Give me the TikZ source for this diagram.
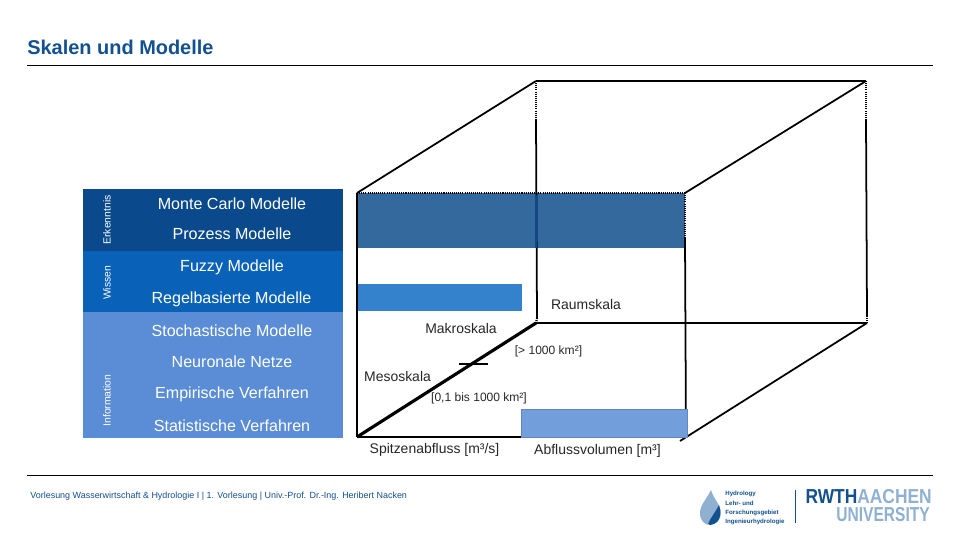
\documentclass[tikz,border=0pt]{standalone}
\usepackage{fontspec}
\setmainfont{Liberation Sans}
\usepackage{xcolor}
\usetikzlibrary{calc,positioning}
\definecolor{deepblue}{HTML}{0A4A8C}
\definecolor{midblue}{HTML}{0A62B8}
\definecolor{lightblue}{HTML}{5A8DD5}
\definecolor{barone}{HTML}{34699D}
\definecolor{bartwo}{HTML}{3582CC}
\definecolor{barthree}{HTML}{729FDC}
\definecolor{logogrey}{HTML}{8FB0D0}
\definecolor{logoblue}{HTML}{12508F}
\tikzset{
  band/.style={fill=#1,draw=none},
  model/.style={text=white,font=\fontsize{9.15}{10}\selectfont,inner sep=0pt},
  side/.style={text=white,font=\fontsize{5.9}{7}\selectfont,rotate=90,inner sep=0pt},
  scale label/.style={text=black!85,font=\fontsize{7.95}{9}\selectfont,inner sep=0pt},
  range label/.style={text=black!85,font=\fontsize{6.85}{8}\selectfont,inner sep=0pt},
  edge/.style={line width=1.3pt},
  thin edge/.style={line width=1pt},
  dot edge/.style={line width=1.2pt,dash pattern=on 0.6pt off 0.6pt},
}
\begin{document}
\begin{tikzpicture}[x=0.02cm,y=-0.02cm]
\useasboundingbox (0,0) rectangle (960,540);

%title and rules
\node[anchor=west,inner sep=0pt,text=logoblue,font=\bfseries\fontsize{11.35}{12}\selectfont] (title) at (27,47) {Skalen und Modelle};
\coordinate (r1) at (27,65);
\coordinate (r2) at (933,65);
\coordinate (r3) at (27,475);
\coordinate (r4) at (933,475);
\draw[line width=0.4pt] (r1) -- (r2);
\draw[line width=0.4pt] (r3) -- (r4);

%left panel
\fill[band=deepblue] (83,189) rectangle (342.5,251);
\fill[band=midblue] (83,251) rectangle (342.5,312);
\fill[band=lightblue] (83,312) rectangle (342.5,438);

\node[side] (erk) at (107,220) {Erkenntnis};
\node[side] (wis) at (107,283) {Wissen};
\node[side] (inf) at (107,400.5) {Information};

\node[model] (m1) at (232,204) {Monte Carlo Modelle};
\node[model] (m2) at (232,234) {Prozess Modelle};
\node[model] (m3) at (232,267) {Fuzzy Modelle};
\node[model] (m4) at (231.5,299) {Regelbasierte Modelle};
\node[model] (m5) at (232,331) {Stochastische Modelle};
\node[model] (m6) at (232,362) {Neuronale Netze};
\node[model] (m7) at (232,394) {Empirische Verfahren};
\node[model] (m8) at (232,426) {Statistische Verfahren};

%cube corners
\coordinate (fbl) at (357,437);
\coordinate (ftl) at (357,193);
\coordinate (fbr) at (686,437);
\coordinate (ftr) at (685,193);
\coordinate (bbl) at (536,323);
\coordinate (btl) at (536,81);
\coordinate (bbr) at (867,323);
\coordinate (btr) at (866,81);
\coordinate (btlx) at (536,120);
\coordinate (bblx) at (537,318);
\coordinate (ftrx) at (685,238);
\coordinate (btrx) at (866,120);
\coordinate (bbrx) at (867,316);
\coordinate (ftail) at (680,441);
\coordinate (tick1) at (459,364);
\coordinate (tick2) at (488,364);

%bars under the lines
\fill[barone] (356,193) rectangle (685,248);
\fill[bartwo] (356,284) rectangle (522,311);

\draw[thin edge] (ftl) -- (fbl);
\draw[edge] (fbl) -- (fbr);
\draw[line width=1.8pt] (fbl) -- (bbl);
\draw[line width=1.4pt] (bbl) -- (bbr);
\draw[thin edge] (ftl) -- (btl);
\draw[thin edge] (ftr) -- (btr);
\draw[thin edge] (ftail) -- (bbr);
\draw[line width=1.5pt] (btl) -- (btr);
\draw[thin edge] (btlx) -- (bblx);
\draw[thin edge] (ftrx) -- (fbr);
\draw[thin edge] (btrx) -- (bbrx);
\draw[dot edge] (btl) -- (btlx);
\draw[dot edge] (bblx) -- (bbl);
\draw[dot edge] (ftl) -- (ftr);
\draw[dot edge,line width=0.8pt] (ftr) -- (ftrx);
\draw[dot edge] (btr) -- (btrx);
\draw[dot edge] (bbrx) -- (bbr);
\draw[edge] (tick1) -- (tick2);

%bar in front of the lines
\draw[fill=barthree,draw=barthree!85!black,line width=0.5pt] (521,409.5) rectangle (687,437);
\draw[edge,draw=deepblue] (536,195) -- (536,248);

%axis labels
\node[scale label] (raum) at (586,305) {Raumskala};
\node[scale label] (makro) at (461,329) {Makroskala};
\node[range label] (large) at (548.5,351) {[> 1000 km²]};
\node[scale label] (meso) at (397.5,377) {Mesoskala};
\node[range label] (medium) at (479,398.5) {[0,1 bis 1000 km²]};
\node[scale label] (peak) at (434.5,449.5) {Spitzenabfluss [m³/s]};
\node[scale label] (vol) at (597.5,451) {Abflussvolumen [m³]};

%footer
\node[anchor=west,inner sep=0pt,text=logoblue,font=\fontsize{5.1}{6}\selectfont] (foot) at (30,496) {Vorlesung Wasserwirtschaft \& Hydrologie I | 1. Vorlesung | Univ.-Prof. Dr.-Ing. Heribert Nacken};

%logo
\fill[logogrey] (711,490) .. controls (706,500) and (700,505) .. (700,513) .. controls (700,521) and (705,525) .. (710,525) .. controls (716,525) and (721,520) .. (721,513) .. controls (721,505) and (714,500) .. (711,490) -- cycle;
\fill[logoblue] (719,505) .. controls (721,512) and (722,523) .. (710,525) .. controls (705,525) and (712,518) .. (719,505) -- cycle;
\node[anchor=west,inner sep=0pt,text=logoblue,font=\bfseries\fontsize{3.5}{5.2}\selectfont,align=left] (group) at (725,508) {Hydrology\\Lehr- und\\Forschungsgebiet\\Ingenieurhydrologie};
\coordinate (s1) at (795,490);
\coordinate (s2) at (795,523);
\draw[logoblue,line width=0.5pt] (s1) -- (s2);
\node[anchor=east,inner sep=0pt,xscale=0.86,font=\bfseries\fontsize{11.5}{12}\selectfont] (rwth) at (932,497) {\textcolor{logoblue}{RWTH}\textcolor{logogrey}{AACHEN}};
\node[anchor=east,inner sep=0pt,xscale=0.77,text=logogrey,font=\bfseries\fontsize{11.5}{12}\selectfont] (univ) at (930,515) {UNIVERSITY};
\end{tikzpicture}
\end{document}
